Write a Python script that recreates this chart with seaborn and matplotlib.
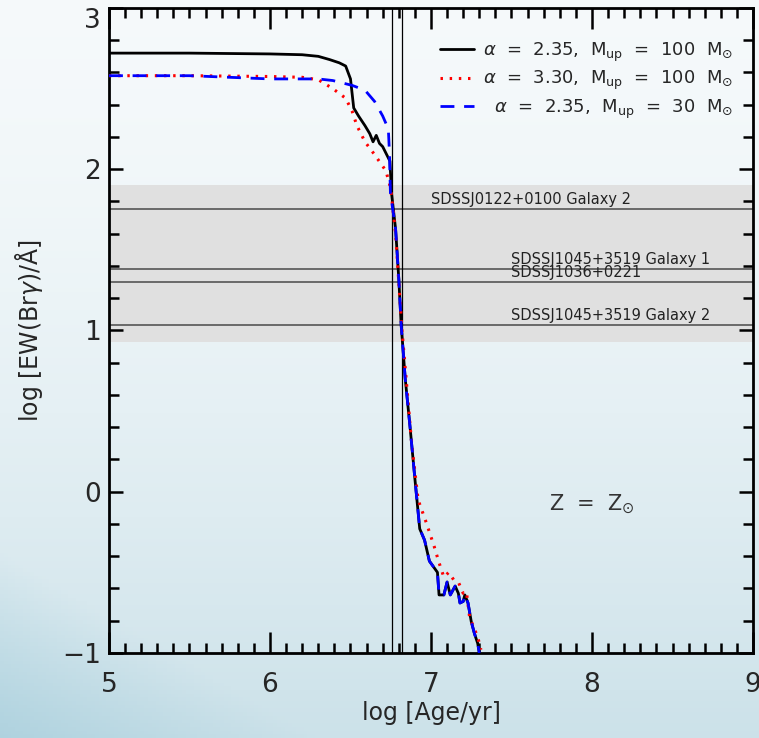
import numpy as np
import pandas as pd
import matplotlib
matplotlib.use("Agg")
import matplotlib.pyplot as plt
import seaborn as sns

sns.set_style("ticks")
plt.rcParams['font.family'] = ['DejaVu Sans']

# --- data ---
# alpha = 2.35, Mup = 100 Msun (black solid)
age_a = [5.0, 5.5, 6.0, 6.2, 6.3, 6.37, 6.43, 6.47, 6.50, 6.52, 6.55, 6.59, 6.62,
         6.64, 6.66, 6.68, 6.70, 6.72, 6.745, 6.755, 6.78, 6.80, 6.815, 6.825, 6.84,
         6.87, 6.90, 6.93, 6.96, 6.99, 7.04, 7.05, 7.08, 7.10, 7.12, 7.15, 7.17,
         7.18, 7.20, 7.21, 7.23, 7.25, 7.27, 7.29, 7.30]
ew_a = [2.72, 2.72, 2.715, 2.71, 2.70, 2.68, 2.66, 2.64, 2.56, 2.38, 2.33, 2.27, 2.22,
        2.17, 2.21, 2.16, 2.14, 2.10, 2.05, 1.85, 1.63, 1.32, 1.03, 0.90, 0.70,
        0.40, 0.08, -0.23, -0.30, -0.43, -0.50, -0.64, -0.64, -0.56, -0.64, -0.585, -0.63,
        -0.69, -0.68, -0.64, -0.69, -0.805, -0.88, -0.94, -1.0]

# alpha = 3.30, Mup = 100 Msun (red dotted)
age_b = [5.0, 5.5, 6.0, 6.2, 6.3, 6.39, 6.47, 6.51, 6.54, 6.59, 6.65, 6.72, 6.75,
         6.78, 6.80, 6.82, 6.85, 6.88, 6.92, 6.97, 7.02, 7.05, 7.08, 7.11, 7.14,
         7.17, 7.20, 7.22, 7.24, 7.29, 7.31]
ew_b = [2.58, 2.58, 2.575, 2.57, 2.555, 2.50, 2.44, 2.36, 2.27, 2.17, 2.09, 1.99, 1.88,
        1.60, 1.30, 1.00, 0.65, 0.30, -0.05, -0.19, -0.34, -0.44, -0.53, -0.50, -0.545,
        -0.56, -0.63, -0.62, -0.78, -0.90, -0.98]

# alpha = 2.35, Mup = 30 Msun (blue dashed)
age_c = [5.0, 5.5, 6.0, 6.3, 6.39, 6.51, 6.59, 6.65, 6.70, 6.735, 6.742, 6.748,
         6.78, 6.80, 6.815, 6.825, 6.84, 6.87, 6.90, 6.93, 6.96, 6.99, 7.04, 7.05,
         7.08, 7.10, 7.12, 7.15, 7.17, 7.18, 7.20, 7.21, 7.23, 7.25, 7.27, 7.29, 7.30]
ew_c = [2.58, 2.58, 2.56, 2.56, 2.55, 2.52, 2.49, 2.42, 2.33, 2.25, 2.10, 1.85,
        1.63, 1.32, 1.03, 0.90, 0.70, 0.40, 0.08, -0.23, -0.30, -0.43, -0.50, -0.64,
        -0.64, -0.56, -0.64, -0.585, -0.63, -0.69, -0.68, -0.64, -0.69, -0.805, -0.88, -0.94, -1.0]

series_labels = [r"$\alpha$  =  2.35,  M$_{\rm up}$  =  100  M$_{\odot}$",
                 r"$\alpha$  =  3.30,  M$_{\rm up}$  =  100  M$_{\odot}$",
                 r"  $\alpha$  =  2.35,  M$_{\rm up}$  =  30  M$_{\odot}$"]

# observed galaxies
galaxy_names = ["SDSSJ0122+0100 Galaxy 2", "SDSSJ1045+3519 Galaxy 1",
                "SDSSJ1036+0221", "SDSSJ1045+3519 Galaxy 2"]
galaxy_ew = [1.755, 1.383, 1.302, 1.034]
galaxy_label_x = [7.0, 7.5, 7.5, 7.5]
band_lo, band_hi = 0.93, 1.905
age_marks = [6.76, 6.82]

df_a = pd.DataFrame({"age": age_a, "ew": ew_a})
df_b = pd.DataFrame({"age": age_b, "ew": ew_b})
df_c = pd.DataFrame({"age": age_c, "ew": ew_c})

fig = plt.figure(figsize=(7.59, 7.38), dpi=100)

# slide-like background gradient
bg = fig.add_axes([0, 0, 1, 1], zorder=-10)
yy, xx = np.mgrid[0:1:200j, 0:1:200j]
top = np.array([0.962, 0.978, 0.984])
bot = np.array([0.80, 0.885, 0.915])
corner = np.array([0.62, 0.79, 0.85])
t = (yy ** 1.6)[..., None]
img = top * (1 - t) + bot * t
c = np.clip(yy - 0.75 - xx * 0.6, 0, None)[..., None] * 2.5
img = img * (1 - np.clip(c, 0, 1)) + corner * np.clip(c, 0, 1)
bg.imshow(img, aspect="auto", extent=[0, 1, 0, 1], origin="upper")
bg.axis("off")

ax = fig.add_axes([0.1436, 0.1152, 0.8485, 0.874])
ax.patch.set_alpha(0)

ax.axhspan(band_lo, band_hi, color="#e0e0e0", zorder=0, lw=0)
for g, y, lx in zip(galaxy_names, galaxy_ew, galaxy_label_x):
    ax.axhline(y, color="#555555", lw=1.2, zorder=1)
    ax.text(lx, y + 0.012, g, fontsize=10.5, color="#222222", va="bottom", ha="left")
for a in age_marks:
    ax.axvline(a, color="black", lw=0.9, zorder=1)

sns.lineplot(data=df_a, x="age", y="ew", ax=ax, color="black", lw=2,
             label=series_labels[0], sort=False, zorder=3)
sns.lineplot(data=df_b, x="age", y="ew", ax=ax, color="red", lw=2.2,
             linestyle=(0, (0.8, 2.2)), label=series_labels[1], sort=False, zorder=4)
sns.lineplot(data=df_c, x="age", y="ew", ax=ax, color="blue", lw=2,
             linestyle=(0, (5, 3.5)), label=series_labels[2], sort=False, zorder=5)

ax.text(7.73, -0.08, r"Z  =  Z$_{\odot}$", fontsize=15, color="#333333", va="center")

ax.set_xlim(5, 9)
ax.set_ylim(-1, 3)
ax.set_xticks([5, 6, 7, 8, 9])
ax.set_yticks([-1, 0, 1, 2, 3])
ax.set_xticks(np.arange(5, 9.01, 0.1), minor=True)
ax.set_yticks(np.arange(-1, 3.01, 0.2), minor=True)
ax.tick_params(axis="both", which="both", direction="in", top=True, right=True,
               width=1.8, color="black", labelsize=19)
ax.tick_params(axis="x", which="major", length=15, pad=14)
ax.tick_params(axis="x", which="minor", length=7)
ax.tick_params(axis="y", which="major", length=10, pad=6)
ax.tick_params(axis="y", which="minor", length=7)
for s in ax.spines.values():
    s.set_linewidth(2)
    s.set_color("black")

# the top label sits just under the frame edge
ax.get_yticklabels()[-1].set_verticalalignment("top")

ax.set_xlabel("log [Age/yr]", fontsize=17, labelpad=2)
ax.set_ylabel(r"log [EW(Br$\gamma$)/Å]", fontsize=17, labelpad=12)

leg = ax.legend(loc="upper right", bbox_to_anchor=(0.995, 0.975), frameon=False,
                fontsize=13, handlelength=1.9, handletextpad=0.5, labelspacing=0.3)

fig.savefig("out.png", dpi=100)
